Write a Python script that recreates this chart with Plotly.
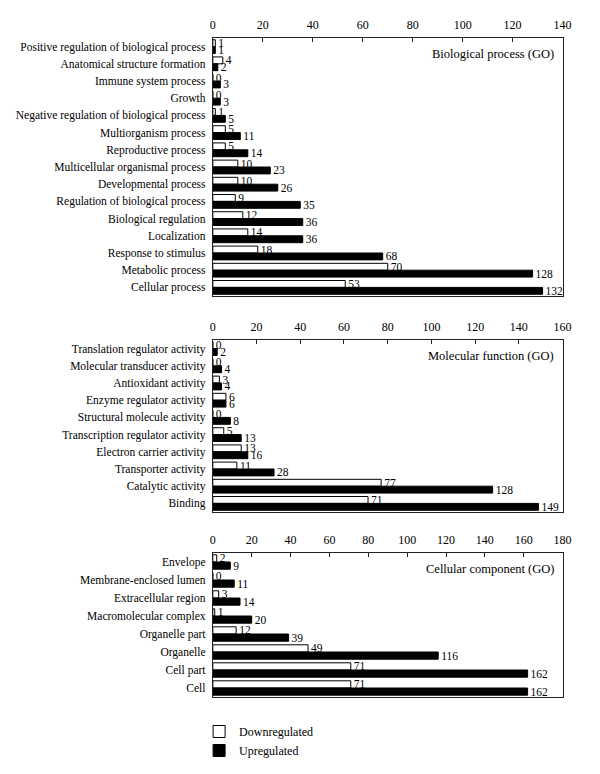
import plotly.graph_objects as go

# ---- Data ----
bp_categories = [
    "Positive regulation of biological process", "Anatomical structure formation",
    "Immune system process", "Growth", "Negative regulation of biological process",
    "Multiorganism process", "Reproductive process", "Multicellular organismal process",
    "Developmental process", "Regulation of biological process", "Biological regulation",
    "Localization", "Response to stimulus", "Metabolic process", "Cellular process",
]
bp_down = [1, 4, 0, 0, 1, 5, 5, 10, 10, 9, 12, 14, 18, 70, 53]
bp_up = [1, 2, 3, 3, 5, 11, 14, 23, 26, 35, 36, 36, 68, 128, 132]

mf_categories = [
    "Translation regulator activity", "Molecular transducer activity", "Antioxidant activity",
    "Enzyme regulator activity", "Structural molecule activity", "Transcription regulator activity",
    "Electron carrier activity", "Transporter activity", "Catalytic activity", "Binding",
]
mf_down = [0, 0, 3, 6, 0, 5, 13, 11, 77, 71]
mf_up = [2, 4, 4, 6, 8, 13, 16, 28, 128, 149]

cc_categories = [
    "Envelope", "Membrane-enclosed lumen", "Extracellular region", "Macromolecular complex",
    "Organelle part", "Organelle", "Cell part", "Cell",
]
cc_down = [2, 0, 3, 1, 12, 49, 71, 71]
cc_up = [9, 11, 14, 20, 39, 116, 162, 162]

panel_titles = ["Biological process (GO)", "Molecular function (GO)", "Cellular component (GO)"]
x_ranges = [140, 160, 180]
series_names = ["Downregulated", "Upregulated"]

FONT = "Liberation Serif, Times New Roman, serif"
OFF = 8  # page body margin
W, H = 600 - OFF, 774 - OFF


def px_x(x):
    return (x - OFF) / W


def px_y(y):
    return 1 - (y - OFF) / H


panels = [
    (bp_categories, bp_down, bp_up),
    (mf_categories, mf_down, mf_up),
    (cc_categories, cc_down, cc_up),
]

# page-pixel layout (top, bottom) of each frame
frames_px = [(38, 296), (340, 512), (553, 697)]
x_dom = [px_x(214), px_x(571)]

fig = go.Figure()
for i, (cats, down, up) in enumerate(panels):
    ax = "" if i == 0 else str(i + 1)
    for name, vals, fill in [(series_names[0], down, "white"), (series_names[1], up, "black")]:
        fig.add_trace(go.Bar(
            y=cats, x=vals, orientation="h", name=name,
            marker=dict(color=fill, line=dict(color="black", width=1)),
            text=[str(v) for v in vals], textposition="outside",
            textfont=dict(family=FONT, size=11.5, color="black"),
            constraintext="none", cliponaxis=False,
            showlegend=(i == 0), legendgroup=name,
            xaxis="x" + ax, yaxis="y" + ax, hoverinfo="skip",
        ))

layout = dict(
    width=W, height=H,
    margin=dict(l=0, r=0, t=0, b=0),
    paper_bgcolor="white", plot_bgcolor="white",
    barmode="group", bargap=0.2, bargroupgap=0.0,
    font=dict(family=FONT, size=12, color="black"),
    showlegend=True,
    legend=dict(x=px_x(200), y=px_y(717), xanchor="left", yanchor="top",
                font=dict(family=FONT, size=12, color="black"),
                bgcolor="rgba(0,0,0,0)", tracegroupgap=0, traceorder="normal",
                itemwidth=30),
    annotations=[],
)

for i, (cats, _, _) in enumerate(panels):
    ax = "" if i == 0 else str(i + 1)
    top, bot = frames_px[i]
    ydom = [px_y(bot), px_y(top)]
    layout["xaxis" + ax] = dict(
        domain=x_dom, range=[0, x_ranges[i]], dtick=20, side="top",
        anchor="y" + ax, showline=True, linecolor="#222", linewidth=1, mirror=True,
        ticks="inside", ticklen=4, tickcolor="#222", showgrid=False, zeroline=False,
        ticklabelstandoff=3,
        tickfont=dict(family=FONT, size=12, color="black"), fixedrange=True,
    )
    layout["yaxis" + ax] = dict(
        domain=ydom, anchor="x" + ax, autorange="reversed", type="category",
        showline=True, linecolor="#222", linewidth=1, mirror=True,
        ticks="", showgrid=False, zeroline=False, ticklabelstandoff=4,
        tickfont=dict(family=FONT, size=11.5, color="black"), fixedrange=True,
    )
    layout["annotations"].append(dict(
        text=panel_titles[i], xref="paper", yref="paper",
        x=px_x(564), y=px_y(top + 16), xanchor="right", yanchor="middle",
        showarrow=False, font=dict(family=FONT, size=12.5, color="black"),
    ))

fig.update_layout(**layout)
fig.write_html("out.html")
